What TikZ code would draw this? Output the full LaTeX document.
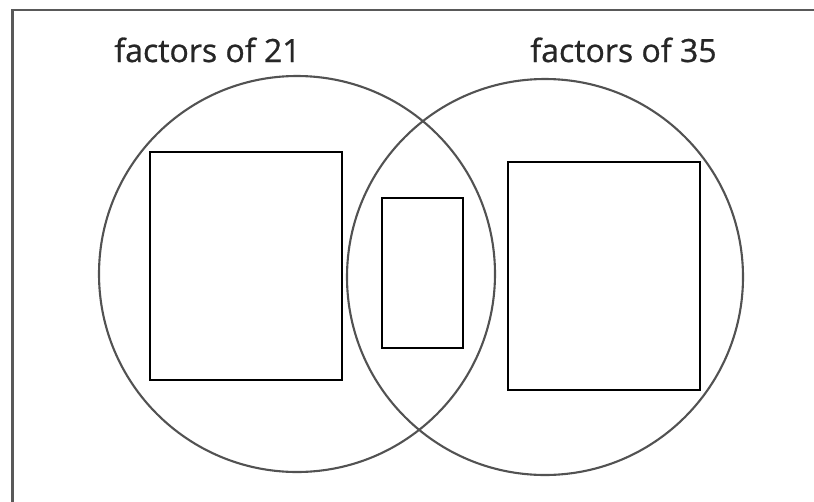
\documentclass[tikz,border=0pt]{standalone}
\usepackage{fontspec}
\setmainfont{Open Sans}
\newfontfamily\labelfont[FakeBold=0.8]{Open Sans}
\begin{document}
\begin{tikzpicture}[x=1pt,y=-1pt,
  frame/.style={draw=black!65,line width=2.4pt},
  setcircle/.style={draw=black!68,line width=2.1pt},
  answerbox/.style={draw=black,line width=1.8pt},
  label/.style={font=\labelfont\fontsize{32}{36}\selectfont,text=black!85,inner sep=0pt,anchor=base}]
\useasboundingbox (0,0) rectangle (814,501);
\clip (0,0) rectangle (814,501);
\coordinate (fbl) at (12.5,520);
\coordinate (ftl) at (12.5,10);
\coordinate (ftr) at (830,10);
\draw[frame] (fbl) -- (ftl) -- (ftr);
\node[setcircle,circle,minimum size=396pt,inner sep=0pt] (A) at (297,274) {};
\node[setcircle,circle,minimum size=396pt,inner sep=0pt] (B) at (545,277) {};
\node[label] (la) at (207.5,62) {factors of 21};
\node[label] (lb) at (623.5,62) {factors of 35};
\node[answerbox,minimum width=192pt,minimum height=228pt,inner sep=0pt] (b1) at (246,266) {};
\node[answerbox,minimum width=81pt,minimum height=150pt,inner sep=0pt] (b2) at (422.5,273) {};
\node[answerbox,minimum width=192pt,minimum height=228pt,inner sep=0pt] (b3) at (604,276) {};
\end{tikzpicture}
\end{document}
